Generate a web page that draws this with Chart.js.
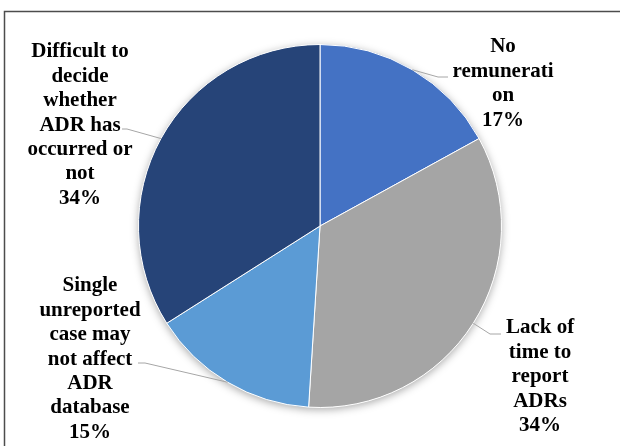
<!DOCTYPE html>
<html>
<head>
<meta charset="utf-8">
<script src="https://cdn.jsdelivr.net/npm/chart.js@4"></script>
<style>
  html, body { margin: 0; padding: 0; background: #fff; }
  #wrap { width: 620px; height: 446px; position: relative; }
  .probe { font: bold 21px "Liberation Serif"; position: absolute; left: -999px; }
</style>
</head>
<body>
<span class="probe">Difficult to</span>
<div id="wrap"><canvas id="pie" width="620" height="446"></canvas></div>
<script>
// data
const categories = [
  "No remuneration",
  "Lack of time to report ADRs",
  "Single unreported case may not affect ADR database",
  "Difficult to decide whether ADR has occurred or not",
];
// how each label is wrapped in the picture
const labelLines = [
  ["No", "remunerati", "on"],
  ["Lack of", "time to", "report", "ADRs"],
  ["Single", "unreported", "case may", "not affect", "ADR", "database"],
  ["Difficult to", "decide", "whether", "ADR has", "occurred or", "not"],
];
const percents = [17, 34, 15, 34];
const sliceColors = ["#4472C4", "#A5A5A5", "#5B9BD5", "#264478"];

// label placement (layout only): text centre x, first line y, elbow + end of leader
const labelLayout = [
  { cx: 503, y0: 47, elbow: [438, 77], end: [448, 77] },
  { cx: 540, y0: 328, elbow: [490, 334], end: [501, 334] },
  { cx: 90, y0: 286, elbow: [145, 363], end: [138, 363] },
  { cx: 80, y0: 52, elbow: [127, 129], end: [122, 129] },
];
const lineHeight = 24.4;
const labelFont = 'bold 21px "Liberation Serif", "Times New Roman", serif';

const framePlugin = {
  id: "frame",
  beforeDraw(chart) {
    const ctx = chart.ctx;
    ctx.save();
    ctx.strokeStyle = "#4d4d4d";
    ctx.lineWidth = 1.5;
    ctx.strokeRect(4.5, 11.5, 700, 500);
    ctx.restore();
  },
};

// soft shadow under the whole pie
const shadowPlugin = {
  id: "pieShadow",
  beforeDatasetsDraw(chart) {
    const arc = chart.getDatasetMeta(0).data[0];
    if (!arc) return;
    const ctx = chart.ctx;
    ctx.save();
    ctx.shadowColor = "rgba(0,0,0,0.35)";
    ctx.shadowBlur = 9;
    ctx.shadowOffsetY = 2;
    ctx.fillStyle = "#fff";
    ctx.beginPath();
    ctx.arc(arc.x, arc.y, arc.outerRadius, 0, Math.PI * 2);
    ctx.fill();
    ctx.restore();
  },
};

const labelPlugin = {
  id: "sliceLabels",
  afterDatasetsDraw(chart) {
    const ctx = chart.ctx;
    const meta = chart.getDatasetMeta(0);
    ctx.save();
    meta.data.forEach((arc, i) => {
      const lay = labelLayout[i];
      const mid = (arc.startAngle + arc.endAngle) / 2;
      const px = arc.x + Math.cos(mid) * arc.outerRadius;
      const py = arc.y + Math.sin(mid) * arc.outerRadius;
      // leader line
      ctx.strokeStyle = "#a6a6a6";
      ctx.lineWidth = 1;
      ctx.beginPath();
      ctx.moveTo(px, py);
      ctx.lineTo(lay.elbow[0], lay.elbow[1]);
      ctx.lineTo(lay.end[0], lay.end[1]);
      ctx.stroke();
      // text
      const lines = labelLines[i].concat([percents[i] + "%"]);
      ctx.fillStyle = "#000";
      ctx.font = labelFont;
      ctx.textAlign = "center";
      ctx.textBaseline = "middle";
      lines.forEach((t, k) => ctx.fillText(t, lay.cx, lay.y0 + k * lineHeight));
    });
    ctx.restore();
  },
};

function draw() {
  new Chart(document.getElementById("pie"), {
    type: "pie",
    data: {
      labels: categories,
      datasets: [
        {
          data: percents,
          backgroundColor: sliceColors,
          borderColor: "#ffffff",
          borderWidth: 1,
        },
      ],
    },
    options: {
      responsive: false,
      animation: false,
      layout: { padding: { top: 44, bottom: 38, left: 138, right: 118 } },
      plugins: {
        legend: { display: false },
        tooltip: { enabled: false },
      },
    },
    plugins: [framePlugin, shadowPlugin, labelPlugin],
  });
}

document.fonts.load(labelFont).then(draw, draw);
</script>
</body>
</html>
